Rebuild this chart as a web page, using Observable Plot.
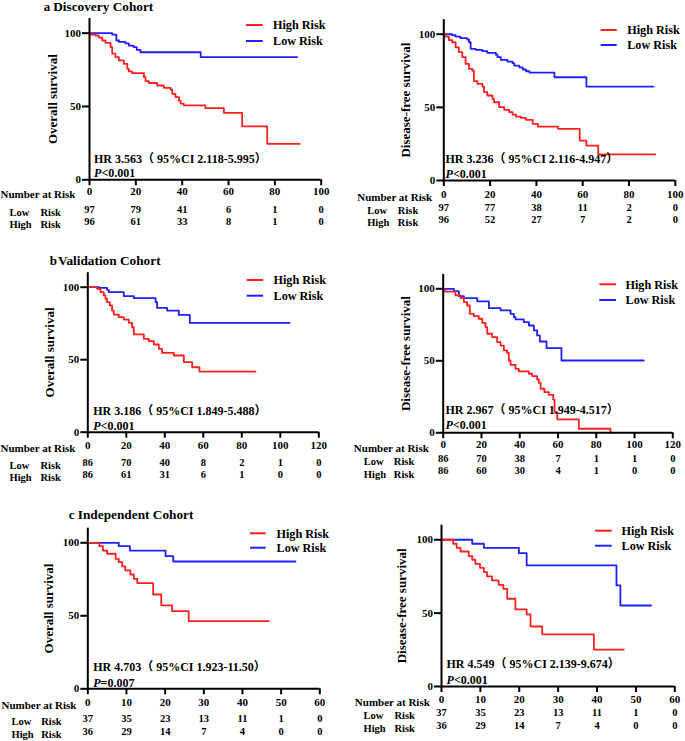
<!DOCTYPE html>
<html><head><meta charset="utf-8">
<script src="https://cdn.jsdelivr.net/npm/d3@7"></script>
<script src="https://cdn.jsdelivr.net/npm/@observablehq/plot@0.6"></script>
<style>
body{margin:0;background:#fff;}
#fig{position:relative;width:685px;height:741px;overflow:hidden;background:#fff;}
#fig svg{position:absolute;}
#fig svg text{font-family:'Liberation Serif','Times New Roman','Noto Sans CJK SC',serif;font-weight:bold;}
</style></head><body><div id="fig"></div>
<script>
// ---------- DATA ----------
const ticksA = [0, 20, 40, 60, 80, 100];
const ticksB = [0, 20, 40, 60, 80, 100, 120];
const ticksC = [0, 10, 20, 30, 40, 50, 60];
const yTicks = [0, 50, 100];

// [time (months), survival %] step points
const aOS_low = [[0,100],[9.8,99],[11.6,95],[12.7,94],[15.5,93],[17,91.5],[19,90.5],[20.4,88.6],[22,87],[48,83.6],[89.6,83.6]];
const aOS_high = [[0,100],[0.4,99],[2.6,98.4],[4,97],[5.5,95],[6.9,93.4],[9.1,90.5],[9.8,86],[11.2,83.6],[12.7,81.4],[14.8,79],[16.3,75.7],[17,73.9],[18.4,72.7],[23.5,70],[24.2,67.3],[25.6,66],[29.2,64.3],[32.1,62.7],[35,61.4],[35.7,58.6],[37.1,56.4],[38.6,54],[39.3,52],[40.7,50.7],[50,48.9],[58,45.7],[65.9,36.4],[76.7,24.5],[90.8,24.5]];
const aDFS_low = [[0,100],[3.6,99.3],[5.1,98.4],[7.2,97.3],[10.1,96.4],[10.9,94.5],[11.6,90],[13.8,89.3],[16.7,88.4],[18.8,87.2],[22.5,86],[23.2,84.3],[24.6,82.5],[27.5,81.3],[29.7,80.2],[30.4,78.6],[32.6,77.4],[34.1,75.9],[35.5,74.7],[37,73.8],[47.8,70.6],[61.6,64.2],[90.6,64.2]];
const aDFS_high = [[0,100],[0.7,98.4],[2.2,96],[3.6,94.5],[5.1,91],[6.5,87.7],[8,84.3],[9.4,79.7],[10.9,76.3],[12.3,75.2],[13,67.9],[14.5,66.1],[16.7,64.2],[17.4,60.4],[18.8,58.1],[21,55.8],[21.7,53.5],[23.9,50.1],[26.1,48.3],[28.3,46.7],[29.7,45.1],[31.2,43.7],[33.3,42.8],[35.5,41.5],[38.4,38.7],[40.6,36.9],[49.3,35.3],[58.7,27.3],[61.6,23.9],[66.7,17.8],[91.3,17.8]];
const bOS_low = [[0,100],[5.7,99.5],[10,98.2],[10.9,96.6],[18.7,93.8],[23.9,92.4],[35.2,89.7],[36,85.7],[41.2,83.9],[47.3,80.9],[53,75.4],[104.9,75.4]];
const bOS_high = [[0,100],[4.8,98.9],[6.6,96.6],[8.3,94.3],[9.2,92],[10,89.7],[11.4,87.4],[12.6,83.9],[13.5,81.1],[16.1,79.3],[18.7,77.7],[21.3,75.4],[23,72.4],[23.9,67.4],[29.1,64.4],[31.7,62.8],[34.3,60.5],[36.9,57.5],[38.6,54.7],[44.7,52.9],[49.9,48.3],[54.2,44.8],[58,41.8],[87.1,41.8]];
const bDFS_low = [[0,100],[5.6,98.4],[8.2,94.9],[10.8,93.5],[17.8,91.2],[23.9,86.6],[30,85],[35.2,82.6],[36.9,80.3],[37.8,78.7],[42.1,76.9],[44.8,74.5],[47.4,71.1],[49.1,67.6],[50.5,63.4],[54,58.8],[61.8,50.2],[104.8,50.2]];
const bDFS_high = [[0,100],[0.7,98.1],[6.4,95.4],[9.1,93.5],[10.8,90.7],[12.5,88.4],[13.9,82.6],[16,81],[18.6,79.2],[20.4,76.4],[22.1,73.4],[23,68.8],[25.6,66.4],[28.2,63],[30,60.6],[31.7,57.2],[33.4,55.6],[34.3,50.2],[35.2,47.2],[37.8,44.4],[39.5,42.6],[44.8,41],[46.5,39.4],[49.1,37],[50,34.7],[50.9,30.6],[52.9,28.2],[55.2,26.4],[57.5,23.1],[58.2,14.4],[59.6,9.3],[70.9,2.8],[87.4,0]];
const cOS_low = [[0,100],[8,97.7],[10.9,94.7],[20.1,90.9],[22.1,87.2],[53.7,87.2]];
const cOS_high = [[0,100],[3,97.7],[3.9,94.7],[5,92.5],[7.2,89],[8,86.8],[8.9,83.8],[9.7,81.1],[11,78.3],[11.9,75.3],[12.8,72.4],[16.9,64.6],[19,57.1],[21.8,53.2],[26.1,46.3],[46.8,46.3]];
const cDFS_low = [[0,100],[7.9,97.3],[10.9,94.5],[19.9,90.9],[21.9,82.5],[45,68.9],[46,55.2],[53.9,55.2]];
const cDFS_high = [[0,100],[3,97.3],[3.9,94.5],[4.9,92],[7,88.9],[7.9,86.4],[8.7,83.6],[9.9,80.9],[10.9,78],[11.7,75],[13,72.3],[14.7,69.3],[15.9,66.6],[16.9,59.8],[19,52.5],[21.9,49.1],[22.9,40.9],[25.9,35.5],[39.2,25.2],[46.9,25.2]];

// numbers at risk
const aOS_riskLow = [97, 79, 41, 6, 1, 0];
const aOS_riskHigh = [96, 61, 33, 8, 1, 0];
const aDFS_riskLow = [97, 77, 38, 11, 2, 0];
const aDFS_riskHigh = [96, 52, 27, 7, 2, 0];
const bOS_riskLow = [86, 70, 40, 8, 2, 1, 0];
const bOS_riskHigh = [86, 61, 31, 6, 1, 0, 0];
const bDFS_riskLow = [86, 70, 38, 7, 1, 1, 0];
const bDFS_riskHigh = [86, 60, 30, 4, 1, 0, 0];
const cOS_riskLow = [37, 35, 23, 13, 11, 1, 0];
const cOS_riskHigh = [36, 29, 14, 7, 4, 0, 0];
const cDFS_riskLow = [37, 35, 23, 13, 11, 1, 0];
const cDFS_riskHigh = [36, 29, 14, 7, 4, 0, 0];

// texts
const hrTexts = [
  "HR 3.563（ 95%CI 2.118-5.995）", "HR 3.236（ 95%CI 2.116-4.947）",
  "HR 3.186（ 95%CI 1.849-5.488）", "HR 2.967（ 95%CI 1.949-4.517）",
  "HR 4.703（ 95%CI 1.923-11.50）", "HR 4.549（ 95%CI 2.139-9.674）"
];
const pTexts = ["<0.001", "<0.001", "<0.001", "<0.001", "=0.007", "<0.001"];
const yLabels = ["Overall survival", "Disease-free survival"];
const cohortLetters = ["a", "b", "c"];
const cohortNames = ["Discovery Cohort", "Validation Cohort", "Independent Cohort"];
const seriesNames = ["High Risk", "Low Risk"];
const rowLabels = ["Number at Risk", "Low", "High", "Risk"];

// ---------- STYLE / LAYOUT ----------
const RED = "#ff1f1f", BLUE = "#1f1fff";
const SERIF = "'Liberation Serif','Times New Roman','Noto Sans CJK SC',serif";
const SANS = "'Liberation Sans',Arial,sans-serif";

const panels = [
  {low: aOS_low, high: aOS_high, ticks: ticksA, rl: aOS_riskLow, rh: aOS_riskHigh, hr: 0, yl: 0, cohort: 0,
   L: {ox:0, oy:0, W:340, H:245, x0:89, x1:320.7, y0:179.3, yTop:18.0, tickY:194, lowY:212, highY:224.5, narR:75, rowL:9, riskL:40,
       letterX:43.3, titleX:52.7, titleY:6, letterFont:SANS,
       lx1:246, lx2:262.7, lyH:25, lyL:41, ltx:272.5, hrX:93.5, hrY:158.3, pY:172.5, ylabX:52}},
  {low: aDFS_low, high: aDFS_high, ticks: ticksA, rl: aDFS_riskLow, rh: aDFS_riskHigh, hr: 1, yl: 1,
   L: {ox:340, oy:0, W:345, H:245, x0:443.3, x1:674.8, y0:180, yTop:19.1, tickY:197, lowY:210, highY:222, narR:431.7, rowL:366.7, riskL:397.3,
       lx1:600.7, lx2:616.7, lyH:30, lyL:45, ltx:626.7, hrX:445, hrY:159, pY:174, ylabX:405}},
  {low: bOS_low, high: bOS_high, ticks: ticksB, rl: bOS_riskLow, rh: bOS_riskHigh, hr: 2, yl: 0, cohort: 1,
   L: {ox:0, oy:245, W:340, H:245, x0:87.3, x1:318.3, y0:431.7, yTop:272.2, tickY:448.3, lowY:465, highY:477.3, narR:75, rowL:9, riskL:40,
       letterX:49.3, titleX:57.5, titleY:260, letterFont:SERIF,
       lx1:246.7, lx2:263, lyH:280, lyL:295.7, ltx:273, hrX:92.7, hrY:410.7, pY:426, ylabX:49}},
  {low: bDFS_low, high: bDFS_high, ticks: ticksB, rl: bDFS_riskLow, rh: bDFS_riskHigh, hr: 3, yl: 1,
   L: {ox:340, oy:245, W:345, H:245, x0:442.7, x1:672.3, y0:432.3, yTop:273.9, tickY:447.7, lowY:461, highY:473.7, narR:428.3, rowL:363.3, riskL:393.3,
       lx1:599.3, lx2:616, lyH:284.3, lyL:300, ltx:625, hrX:445, hrY:409.3, pY:425, ylabX:405}},
  {low: cOS_low, high: cOS_high, ticks: ticksC, rl: cOS_riskLow, rh: cOS_riskHigh, hr: 4, yl: 0, cohort: 2,
   L: {ox:0, oy:490, W:340, H:251, x0:87.3, x1:319.3, y0:688.3, yTop:527.7, tickY:705, lowY:721, highY:734, narR:76, rowL:11, riskL:40.7,
       letterX:68.3, titleX:77.3, titleY:514, letterFont:SERIF,
       lx1:250, lx2:265.7, lyH:533.3, lyL:547.7, ltx:276, hrX:92.7, hrY:666.7, pY:682.3, ylabX:48}},
  {low: cDFS_low, high: cDFS_high, ticks: ticksC, rl: cDFS_riskLow, rh: cDFS_riskHigh, hr: 5, yl: 1,
   L: {ox:340, oy:490, W:345, H:251, x0:441, x1:674.3, y0:686, yTop:524.6, tickY:702.3, lowY:715.3, highY:728, narR:429.3, rowL:363, riskL:394,
       lx1:595, lx2:611.7, lyH:530.7, lyL:545.7, ltx:621, hrX:446, hrY:663.3, pY:679.3, ylabX:401.7}}
];

const fig = document.getElementById("fig");
const FONT = {fontFamily: SERIF, fontWeight: "bold"};

for (const p of panels) {
  const L = p.L;
  // text anchored at absolute page coordinates (layout only)
  const t = (str, ax, ay, o = {}) => Plot.text([str], {
    frameAnchor: "top-left", text: d => d, dx: ax - L.x0, dy: ay - L.yTop,
    textAnchor: "start", lineAnchor: "middle", ...FONT, ...o
  });
  const legendLines = () => {
    const g = d3.create("svg:g");
    [[L.lyH, RED], [L.lyL, BLUE]].forEach(([yy, c]) => {
      g.append("line").attr("x1", L.lx1 - L.ox).attr("x2", L.lx2 - L.ox)
        .attr("y1", yy - L.oy).attr("y2", yy - L.oy)
        .attr("stroke", c).attr("stroke-width", 2);
    });
    return g.node();
  };
  const xmax = p.ticks[p.ticks.length - 1];
  const marks = [
    Plot.line(p.low, {x: d => d[0], y: d => d[1], curve: "step-after", stroke: BLUE, strokeWidth: 1.8}),
    Plot.line(p.high, {x: d => d[0], y: d => d[1], curve: "step-after", stroke: RED, strokeWidth: 1.8}),
    Plot.ruleX([0], {stroke: "black", strokeWidth: 2}),
    Plot.ruleY([0], {stroke: "black", strokeWidth: 2}),
    Plot.axisY({ticks: yTicks, tickSize: 7, tickFormat: () => "", label: null, strokeWidth: 2}),
    Plot.axisX({ticks: p.ticks, tickSize: 6, tickFormat: () => "", label: null, strokeWidth: 2}),
    Plot.text(yTicks, {y: d => d, frameAnchor: "left", dx: -8.5, textAnchor: "end", lineAnchor: "middle", text: d => String(d), fontSize: 11, ...FONT}),
    Plot.text(p.ticks, {x: d => d, frameAnchor: "bottom", dy: L.tickY - L.y0, text: d => String(d), fontSize: 11, ...FONT}),
    Plot.text(p.ticks, {x: d => d, frameAnchor: "bottom", dy: L.lowY - L.y0, text: (d, i) => String(p.rl[i]), fontSize: 10.5, ...FONT}),
    Plot.text(p.ticks, {x: d => d, frameAnchor: "bottom", dy: L.highY - L.y0, text: (d, i) => String(p.rh[i]), fontSize: 10.5, ...FONT}),
    t(rowLabels[0], L.narR, L.tickY, {textAnchor: "end", fontSize: 11}),
    t(rowLabels[1], L.rowL, L.lowY, {fontSize: 10.5}),
    t(rowLabels[3], L.riskL, L.lowY, {fontSize: 10.5}),
    t(rowLabels[2], L.rowL, L.highY, {fontSize: 10.5}),
    t(rowLabels[3], L.riskL, L.highY, {fontSize: 10.5}),
    t(seriesNames[0], L.ltx, L.lyH, {fontSize: 12.2}),
    t(seriesNames[1], L.ltx, L.lyL, {fontSize: 12.2}),
    legendLines,
    t(hrTexts[p.hr], L.hrX, L.hrY, {fontSize: 12}),
    t("P", L.hrX, L.pY, {fontSize: 12, fontStyle: "italic"}),
    t(pTexts[p.hr], L.hrX + 7.4, L.pY, {fontSize: 12}),
    Plot.text([yLabels[p.yl]], {frameAnchor: "left", text: d => d, dx: L.ylabX - L.x0, rotate: -90,
      textAnchor: "middle", lineAnchor: "middle", fontSize: 13, ...FONT})
  ];
  if (p.cohort !== undefined) {
    marks.push(t(cohortLetters[p.cohort], L.letterX, L.titleY, {fontSize: 13, fontFamily: L.letterFont}));
    marks.push(t(cohortNames[p.cohort], L.titleX, L.titleY, {fontSize: 13.3}));
  }
  const svg = Plot.plot({
    width: L.W, height: L.H,
    marginLeft: L.x0 - L.ox, marginRight: L.ox + L.W - L.x1,
    marginTop: L.yTop - L.oy, marginBottom: L.oy + L.H - L.y0,
    x: {domain: [0, xmax]},
    y: {domain: [0, 110]},
    style: {fontFamily: SERIF, fontWeight: "bold", fontSize: "11px", background: "transparent", color: "black", overflow: "visible"},
    marks
  });
  svg.style.left = L.ox + "px";
  svg.style.top = L.oy + "px";
  fig.appendChild(svg);
}
</script>
</body></html>
